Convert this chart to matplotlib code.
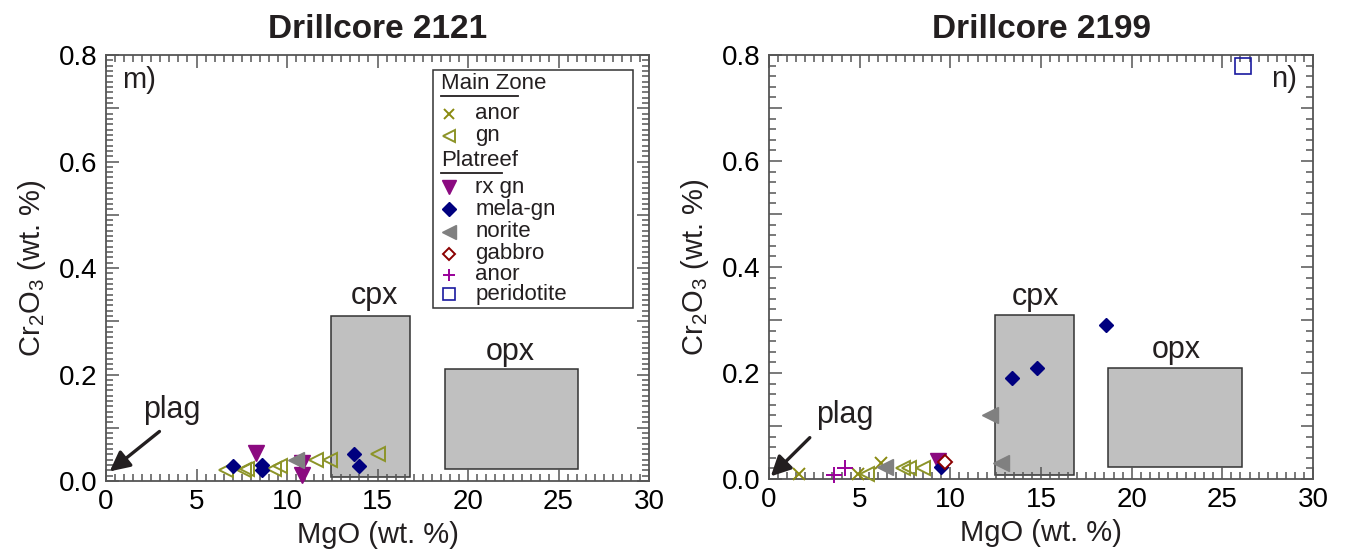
import matplotlib
matplotlib.use('Agg')
import matplotlib.pyplot as plt
from matplotlib.patches import Rectangle
from matplotlib.ticker import MultipleLocator, FuncFormatter

plt.rcParams['font.family'] = ['Liberation Sans', 'DejaVu Sans']
plt.rcParams['mathtext.fontset'] = 'custom'
plt.rcParams['mathtext.rm'] = 'Liberation Sans'
plt.rcParams['mathtext.default'] = 'regular'

# --- Drillcore 2121 ---
mz_gn_x_2121 = [6.6, 7.6, 7.8, 9.3, 9.6, 11.6, 12.4, 15.0]
mz_gn_y_2121 = [0.020, 0.020, 0.022, 0.022, 0.028, 0.040, 0.040, 0.050]
rxgn_x_2121 = [8.3, 10.8, 10.8]
rxgn_y_2121 = [0.052, 0.033, 0.012]
mela_x_2121 = [7.0, 8.6, 8.6, 13.7, 14.0]
mela_y_2121 = [0.028, 0.030, 0.020, 0.050, 0.028]
norite_x_2121 = [10.5]
norite_y_2121 = [0.040]

# --- Drillcore 2199 ---
mz_anor_x_2199 = [1.65, 4.9, 6.2]
mz_anor_y_2199 = [0.010, 0.010, 0.030]
mz_gn_x_2199 = [5.4, 7.4, 7.7, 8.5]
mz_gn_y_2199 = [0.010, 0.020, 0.020, 0.020]
pr_anor_x_2199 = [3.6, 4.2]
pr_anor_y_2199 = [0.008, 0.020]
rxgn_x_2199 = [9.3]
rxgn_y_2199 = [0.034]
mela_x_2199 = [9.5, 13.4, 14.8, 18.6]
mela_y_2199 = [0.022, 0.190, 0.210, 0.290]
norite_x_2199 = [6.4, 12.2, 12.8]
norite_y_2199 = [0.022, 0.120, 0.030]
gabbro_x_2199 = [9.7]
gabbro_y_2199 = [0.032]
perid_x_2199 = [26.15]
perid_y_2199 = [0.78]

# mineral fields: (xmin, xmax, ymin, ymax)
CPX_BOX = (12.45, 16.8, 0.008, 0.31)
OPX_BOX = (18.7, 26.1, 0.022, 0.21)

OLIVE = '#8a8a10'
GN_COL = '#8c9428'
PURPLE = '#8b0a80'
NAVY = '#00007f'
GREY = '#808080'

STYLES = {
    'mz_anor': dict(marker='x', color=OLIVE, ms=8, mew=1.4, ls='none'),
    'mz_gn': dict(marker='<', mfc='none', mec=GN_COL, ms=10, mew=1.4, ls='none'),
    'rxgn': dict(marker='v', color=PURPLE, ms=11, ls='none'),
    'mela': dict(marker='D', color=NAVY, ms=7, ls='none'),
    'norite': dict(marker='<', color=GREY, ms=11, ls='none'),
    'gabbro': dict(marker='D', mfc='white', mec='#8b0000', ms=7, mew=1.4, ls='none'),
    'pr_anor': dict(marker='+', color='#990099', ms=11, mew=1.4, ls='none'),
    'perid': dict(marker='s', mfc='none', mec='#1a1aa0', ms=11, mew=1.2, ls='none'),
}

TEXT_COL = '#231f20'
SPINE_COL = '#555555'


def style_axes(ax, ymin_step):
    ax.set_xlim(0, 30)
    ax.set_ylim(0, 0.8)
    ax.xaxis.set_major_locator(MultipleLocator(5))
    ax.xaxis.set_minor_locator(MultipleLocator(0.5))
    ax.yaxis.set_major_locator(MultipleLocator(0.1))
    ax.yaxis.set_minor_locator(MultipleLocator(ymin_step))
    ax.yaxis.set_major_formatter(FuncFormatter(
        lambda v, _: f"{v:.1f}" if round(v * 10) % 2 == 0 else ""))
    ax.tick_params(which='both', direction='in', top=True, right=True,
                   color=SPINE_COL, width=1.1)
    ax.tick_params(which='major', length=9, labelsize=20, pad=6,
                   labelcolor='black')
    ax.tick_params(which='minor', length=5)
    for s in ax.spines.values():
        s.set_color(SPINE_COL)
        s.set_linewidth(1.3)
    ax.set_xlabel('MgO (wt. %)', fontsize=21, color=TEXT_COL, labelpad=4)
    ax.set_ylabel(r'Cr$_2$O$_3$ (wt. %)', fontsize=21, color=TEXT_COL,
                  labelpad=8)


def draw_fields(ax, cpx_lbl, opx_lbl):
    for (x0, x1, y0, y1) in (CPX_BOX, OPX_BOX):
        ax.add_patch(Rectangle((x0, y0), x1 - x0, y1 - y0, facecolor='#c0c0c0',
                               edgecolor='#333333', lw=1.1, zorder=1))
    ax.text(*cpx_lbl, 'cpx', fontsize=22, color=TEXT_COL, ha='center',
            va='center')
    ax.text(*opx_lbl, 'opx', fontsize=22, color=TEXT_COL, ha='center',
            va='center')


def draw_plag(ax, txt, tail, head):
    ax.text(*txt, 'plag', fontsize=22, color=TEXT_COL, ha='center',
            va='center')
    ax.annotate('', xy=head, xytext=tail,
                arrowprops=dict(arrowstyle='-|>', color='#231f20', lw=2.4,
                                mutation_scale=30, shrinkA=0, shrinkB=0))


fig = plt.figure(figsize=(13.51, 5.58), dpi=100)
ax1 = fig.add_axes([0.0785, 0.138, 0.4019, 0.7634])
ax2 = fig.add_axes([0.5692, 0.1416, 0.4027, 0.7598])

# left panel
style_axes(ax1, 0.01)
draw_fields(ax1, (14.85, 0.347), (22.35, 0.243))
draw_plag(ax1, (3.65, 0.134), (2.95, 0.093), (0.2, 0.018))
ax1.plot(mz_gn_x_2121, mz_gn_y_2121, clip_on=False, zorder=3, **STYLES['mz_gn'])
ax1.plot(rxgn_x_2121, rxgn_y_2121, clip_on=False, zorder=3, **STYLES['rxgn'])
ax1.plot(mela_x_2121, mela_y_2121, clip_on=False, zorder=3, **STYLES['mela'])
ax1.plot(norite_x_2121, norite_y_2121, clip_on=False, zorder=3,
         **STYLES['norite'])
ax1.text(0.9, 0.753, 'm)', fontsize=21, color=TEXT_COL, va='center')
ax1.set_title('Drillcore 2121', fontsize=24, fontweight='bold',
              color=TEXT_COL, pad=12)

# legend drawn by hand so the group headers can be underlined
ax1.add_patch(Rectangle((0.602, 0.406), 0.3685, 0.559, transform=ax1.transAxes,
                        facecolor='white', edgecolor='#333333', lw=1.1,
                        zorder=5))
legend_rows = [
    ('Main Zone', None, 0.932),
    ('anor', 'mz_anor', 0.862),
    ('gn', 'mz_gn', 0.810),
    ('Platreef', None, 0.752),
    ('rx gn', 'rxgn', 0.690),
    ('mela-gn', 'mela', 0.638),
    ('norite', 'norite', 0.585),
    ('gabbro', 'gabbro', 0.533),
    ('anor', 'pr_anor', 0.484),
    ('peridotite', 'perid', 0.438),
]
underline_len = {'Main Zone': 0.142, 'Platreef': 0.113}
small = {'mz_anor': 7, 'mz_gn': 8, 'rxgn': 10, 'mela': 7, 'norite': 10,
         'gabbro': 6, 'pr_anor': 9, 'perid': 9}
for label, key, yy in legend_rows:
    if key is None:
        ax1.text(0.617, yy, label, fontsize=16, color=TEXT_COL,
                 transform=ax1.transAxes, va='center', zorder=6)
        ax1.plot([0.617, 0.617 + underline_len[label]],
                 [yy - 0.028, yy - 0.028], color=TEXT_COL, lw=1.3,
                 transform=ax1.transAxes, zorder=6)
    else:
        st = dict(STYLES[key])
        st['ms'] = small[key]
        ax1.plot([0.631], [yy], transform=ax1.transAxes, zorder=6,
                 clip_on=False, **st)
        ax1.text(0.680, yy, label, fontsize=16, color=TEXT_COL,
                 transform=ax1.transAxes, va='center', zorder=6)

# right panel
style_axes(ax2, 0.02)
draw_fields(ax2, (14.7, 0.343), (22.45, 0.243))
draw_plag(ax2, (4.2, 0.121), (2.25, 0.078), (0.1, 0.005))
ax2.plot(mz_anor_x_2199, mz_anor_y_2199, clip_on=False, zorder=3,
         **STYLES['mz_anor'])
ax2.plot(mz_gn_x_2199, mz_gn_y_2199, clip_on=False, zorder=3,
         **STYLES['mz_gn'])
ax2.plot(pr_anor_x_2199, pr_anor_y_2199, clip_on=False, zorder=3,
         **STYLES['pr_anor'])
ax2.plot(norite_x_2199, norite_y_2199, clip_on=False, zorder=3,
         **STYLES['norite'])
ax2.plot(rxgn_x_2199, rxgn_y_2199, clip_on=False, zorder=3, **STYLES['rxgn'])
ax2.plot(mela_x_2199, mela_y_2199, clip_on=False, zorder=3, **STYLES['mela'])
ax2.plot(gabbro_x_2199, gabbro_y_2199, clip_on=False, zorder=3,
         **STYLES['gabbro'])
ax2.plot(perid_x_2199, perid_y_2199, clip_on=False, zorder=3,
         **STYLES['perid'])
ax2.text(28.4, 0.755, 'n)', fontsize=21, color=TEXT_COL, va='center',
         ha='center')
ax2.set_title('Drillcore 2199', fontsize=24, fontweight='bold',
              color=TEXT_COL, pad=12)

fig.savefig('out.png', dpi=100, facecolor='white')
